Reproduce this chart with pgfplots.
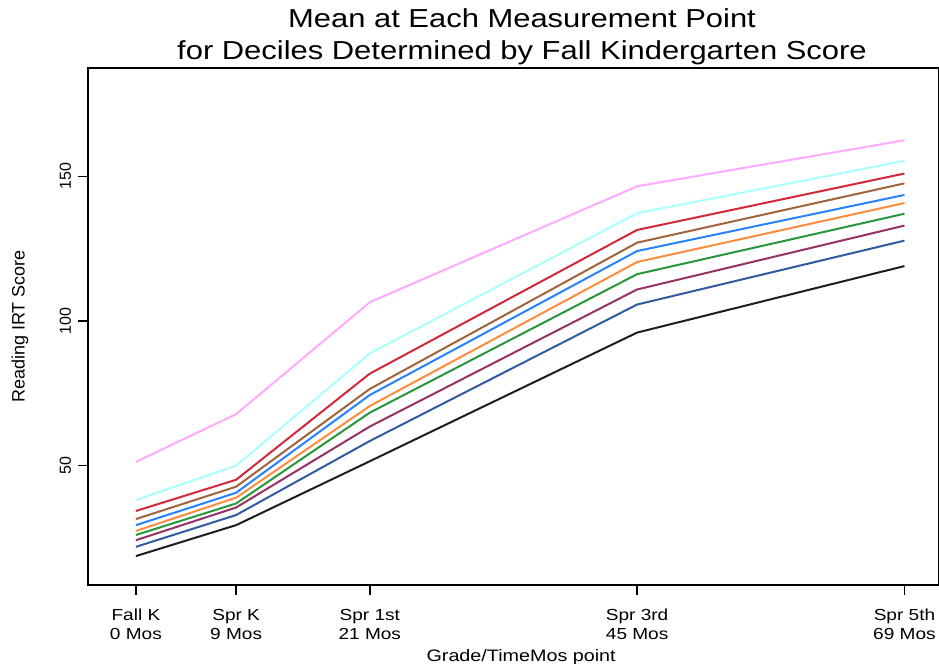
\documentclass[border=0pt]{standalone}
\usepackage{pgfplots}
\usepackage{pgfplotstable}
\usepackage{fontspec}
\pgfplotsset{compat=1.18}
\setmainfont{Liberation Sans}
\newfontfamily\wide{Liberation Sans}[FakeStretch=1.19]

\definecolor{c1}{RGB}{30,30,30}
\definecolor{c2}{RGB}{50,90,160}
\definecolor{c3}{RGB}{150,50,100}
\definecolor{c4}{RGB}{40,150,60}
\definecolor{c5}{RGB}{255,140,60}
\definecolor{c6}{RGB}{40,130,255}
\definecolor{c7}{RGB}{160,100,60}
\definecolor{c8}{RGB}{210,40,60}
\definecolor{c9}{RGB}{170,255,255}
\definecolor{c10}{RGB}{255,170,255}

\pgfplotstableread{
mos d1 d2 d3 d4 d5 d6 d7 d8 d9 d10
0 18.7 21.9 24.2 26.0 27.4 29.4 31.5 34.3 38.1 51.3
9 29.4 32.9 35.5 36.9 38.9 40.6 42.7 45.1 50.0 67.8
21 51.5 58.5 63.5 68.3 70.6 74.4 76.5 81.8 88.8 106.5
45 96.0 105.7 110.9 116.2 120.4 124.2 127.1 131.5 137.3 146.6
69 119.0 127.8 133.0 137.1 140.8 143.6 147.6 151.0 155.4 162.5
}\deciles

\begin{document}
\begin{tikzpicture}
\begin{axis}[
    scale only axis,
    width=425.5pt,
    height=258.5pt,
    xmin=-4.3, xmax=72.1,
    ymin=8.7, ymax=187.5,
    axis line style={line width=0.8pt},
    tick style={line width=0.8pt, black},
    tick align=outside,
    major tick length=5pt,
    tick pos=left,
    /pgf/number format/assume math mode=true,
    xtick={0,9,21,45,69},
    xticklabels={{Fall K\\0 Mos},{Spr K\\9 Mos},{Spr 1st\\21 Mos},{Spr 3rd\\45 Mos},{Spr 5th\\69 Mos}},
    xticklabel style={align=center, font=\wide\fontsize{8}{9.5}\selectfont, yshift=-3.5pt},
    ytick={50,100,150},
    yticklabel style={rotate=90, anchor=south, font=\fontsize{8}{9}\selectfont},
    xlabel={Grade/TimeMos point},
    xlabel style={font=\wide\fontsize{8.3}{10}\selectfont, at={(axis description cs:0.509,0)}, anchor=north, yshift=-28.5pt},
    ylabel={Reading IRT Score},
    ylabel style={font=\fontsize{9}{10}\selectfont, at={(axis description cs:-0.0799,0.5)}, anchor=center},
    title={Mean at Each Measurement Point\\for Deciles Determined by Fall Kindergarten Score},
    title style={align=center, font=\wide\fontsize{13}{16}\selectfont, at={(axis description cs:0.51,1)}, anchor=south, yshift=-8pt},
    every axis plot/.append style={line width=1pt},
]
\addplot[c1] table[x=mos, y=d1] {\deciles};
\addplot[c2] table[x=mos, y=d2] {\deciles};
\addplot[c3] table[x=mos, y=d3] {\deciles};
\addplot[c4] table[x=mos, y=d4] {\deciles};
\addplot[c5] table[x=mos, y=d5] {\deciles};
\addplot[c6] table[x=mos, y=d6] {\deciles};
\addplot[c7] table[x=mos, y=d7] {\deciles};
\addplot[c8] table[x=mos, y=d8] {\deciles};
\addplot[c9] table[x=mos, y=d9] {\deciles};
\addplot[c10] table[x=mos, y=d10] {\deciles};
\end{axis}
\pgfresetboundingbox
\useasboundingbox (-44pt,-39.5pt) rectangle (425.5pt,292.5pt);
\end{tikzpicture}
\end{document}
